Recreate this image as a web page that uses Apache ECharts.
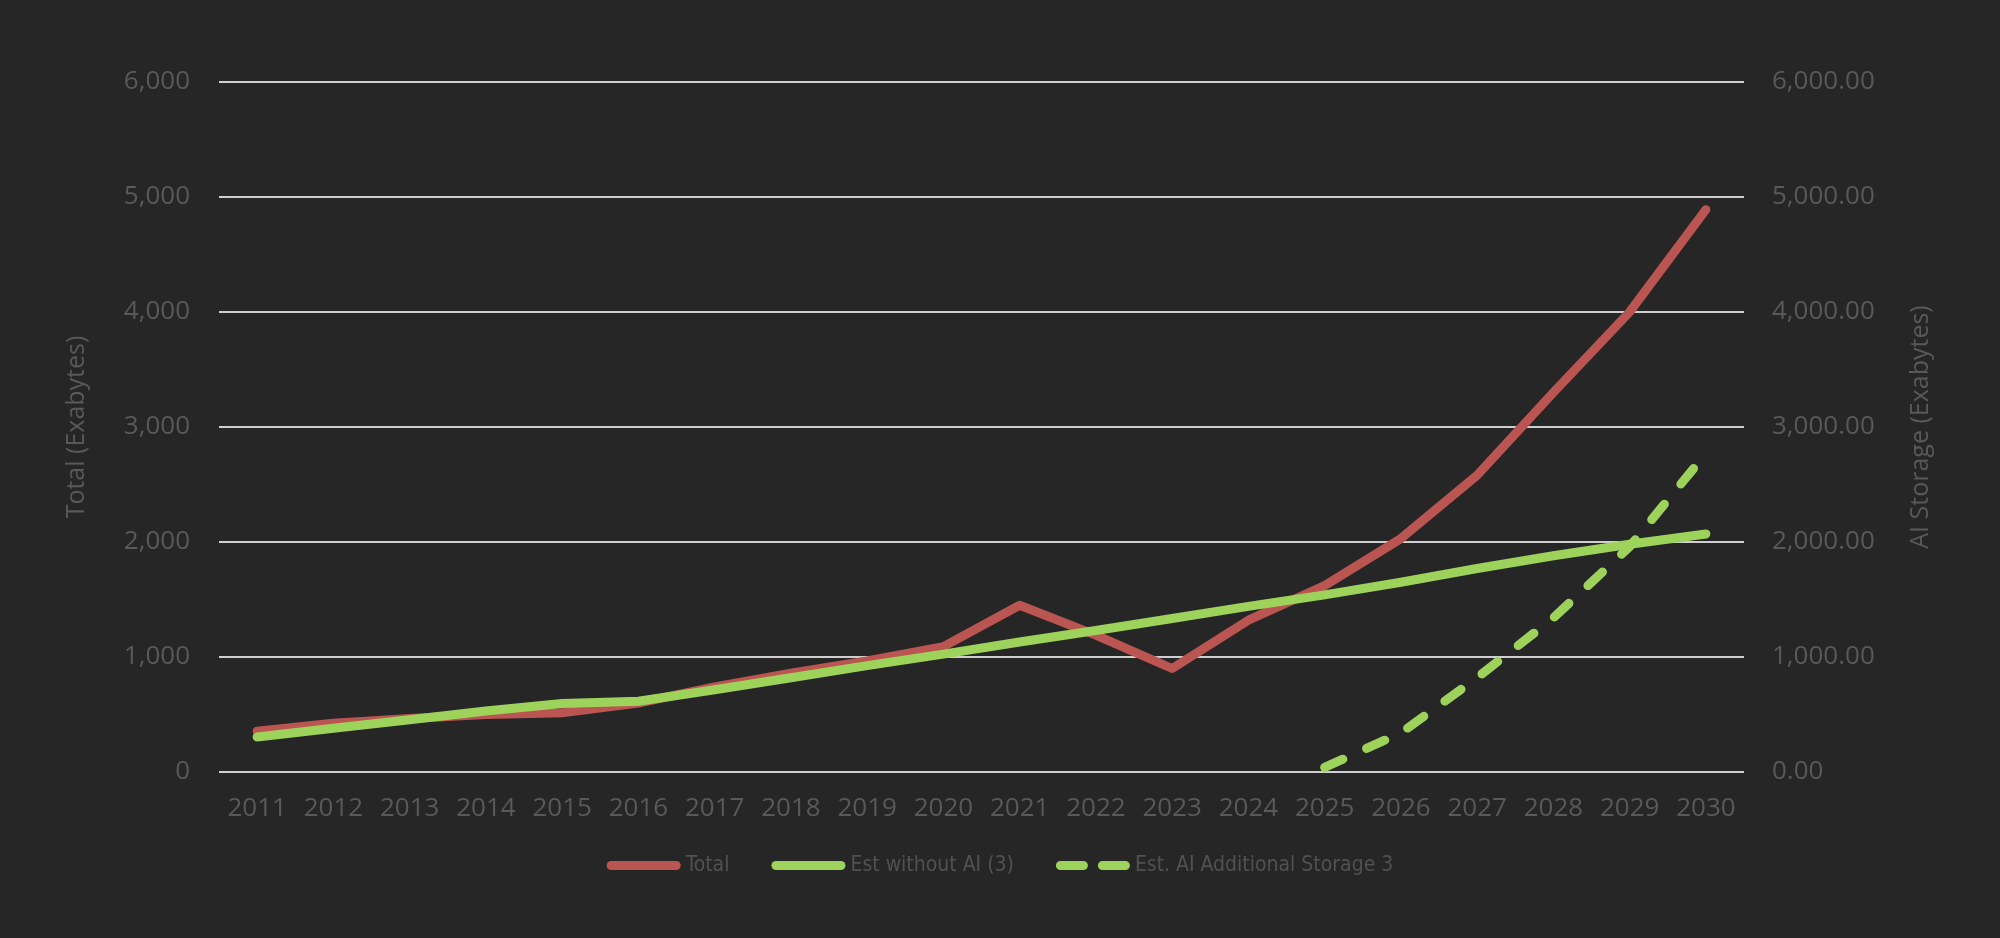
<!DOCTYPE html>
<html>
<head>
<meta charset="utf-8">
<title>Storage chart</title>
<script src="https://cdn.jsdelivr.net/npm/echarts@6/dist/echarts.min.js"></script>
<style>
  html, body { margin: 0; padding: 0; background: #262626; }
  #chart { width: 2000px; height: 938px; }
</style>
</head>
<body>
<div id="chart"></div>
<script>
// years on the x axis
const years = ['2011', '2012', '2013', '2014', '2015', '2016', '2017', '2018', '2019', '2020',
  '2021', '2022', '2023', '2024', '2025', '2026', '2027', '2028', '2029', '2030']
// Total (Exabytes), left axis
const totalData = [355, 425, 465, 500, 515, 600, 740, 860, 965, 1090,
  1450, 1190, 900, 1320, 1620, 2030, 2580, 3300, 4000, 4890]
// Est without AI (3), left axis
const withoutAiData = [305, 380, 455, 530, 595, 615, 715, 820, 925, 1025,
  1130, 1230, 1335, 1440, 1540, 1650, 1770, 1880, 1980, 2070]
// Est. AI Additional Storage 3, right axis
const aiStorageData = [null, null, null, null, null, null, null, null, null, null,
  null, null, null, null, 40, 340, 820, 1340, 1960, 2770]
const axisTicks = [0, 1000, 2000, 3000, 4000, 5000, 6000]

const RED = '#bb5551'
const GREEN = '#9dd35a'
const TXT = '#595959'
const FONT = "'Open Sans', sans-serif"

// legend icons: a solid capsule and two dashes
const solidIcon = 'path://M4.5,0H69.5A4.5,4.5,0,0,1,69.5,9H4.5A4.5,4.5,0,0,1,4.5,0Z'
const dashIcon = 'path://M4.5,0H27.5A4.5,4.5,0,0,1,27.5,9H4.5A4.5,4.5,0,0,1,4.5,0ZM46.5,0H69.5A4.5,4.5,0,0,1,69.5,9H46.5A4.5,4.5,0,0,1,46.5,0Z'

const fmt = (v, d) => v.toLocaleString('en-US', { minimumFractionDigits: d, maximumFractionDigits: d })

const chart = echarts.init(document.getElementById('chart'))
chart.setOption({
  backgroundColor: '#262626',
  animation: false,
  textStyle: { fontFamily: FONT, color: TXT },
  grid: { left: 219, right: 256, top: 82, bottom: 166 },
  legend: {
    bottom: 57,
    left: 'center',
    itemWidth: 74,
    itemHeight: 9,
    itemGap: 42,
    textStyle: { color: '#515151', fontSize: 21, fontFamily: "'Liberation Sans Narrow', 'DejaVu Sans Condensed', sans-serif" },
    data: [
      { name: 'Total', icon: solidIcon },
      { name: 'Est without AI (3)', icon: solidIcon },
      { name: 'Est. AI Additional Storage 3', icon: dashIcon }
    ]
  },
  xAxis: {
    type: 'category',
    boundaryGap: true,
    data: years,
    axisLine: { show: false },
    axisTick: { show: false },
    axisLabel: { color: TXT, fontSize: 26, margin: 24, interval: 0 }
  },
  yAxis: [
    {
      type: 'value',
      min: axisTicks[0],
      max: axisTicks[axisTicks.length - 1],
      interval: 1000,
      name: 'Total (Exabytes)',
      nameLocation: 'middle',
      nameGap: 130,
      nameTextStyle: { color: TXT, fontSize: 25 },
      axisLine: { show: false },
      axisTick: { show: false },
      axisLabel: { color: TXT, fontSize: 26, margin: 29, formatter: v => fmt(v, 0) },
      splitLine: { lineStyle: { color: '#cfcfcf', width: 2 } }
    },
    {
      type: 'value',
      min: axisTicks[0],
      max: axisTicks[axisTicks.length - 1],
      interval: 1000,
      name: 'AI Storage (Exabytes)',
      nameLocation: 'middle',
      nameGap: 164,
      nameTextStyle: { color: TXT, fontSize: 25 },
      axisLine: { show: false },
      axisTick: { show: false },
      axisLabel: { color: TXT, fontSize: 26, margin: 28, formatter: v => fmt(v, 2) },
      splitLine: { show: false }
    }
  ],
  series: [
    {
      name: 'Total',
      type: 'line',
      data: totalData,
      symbol: 'none',
      itemStyle: { color: RED },
      lineStyle: { color: RED, width: 9, cap: 'round', join: 'round' },
      z: 2
    },
    {
      name: 'Est without AI (3)',
      type: 'line',
      data: withoutAiData,
      symbol: 'none',
      itemStyle: { color: GREEN },
      lineStyle: { color: GREEN, width: 9, cap: 'round', join: 'round' },
      z: 3
    },
    {
      name: 'Est. AI Additional Storage 3',
      type: 'line',
      yAxisIndex: 1,
      data: aiStorageData,
      symbol: 'none',
      itemStyle: { color: GREEN },
      lineStyle: { color: GREEN, width: 9, type: [20, 26], cap: 'round', join: 'round' },
      z: 4
    }
  ]
})
</script>
</body>
</html>
